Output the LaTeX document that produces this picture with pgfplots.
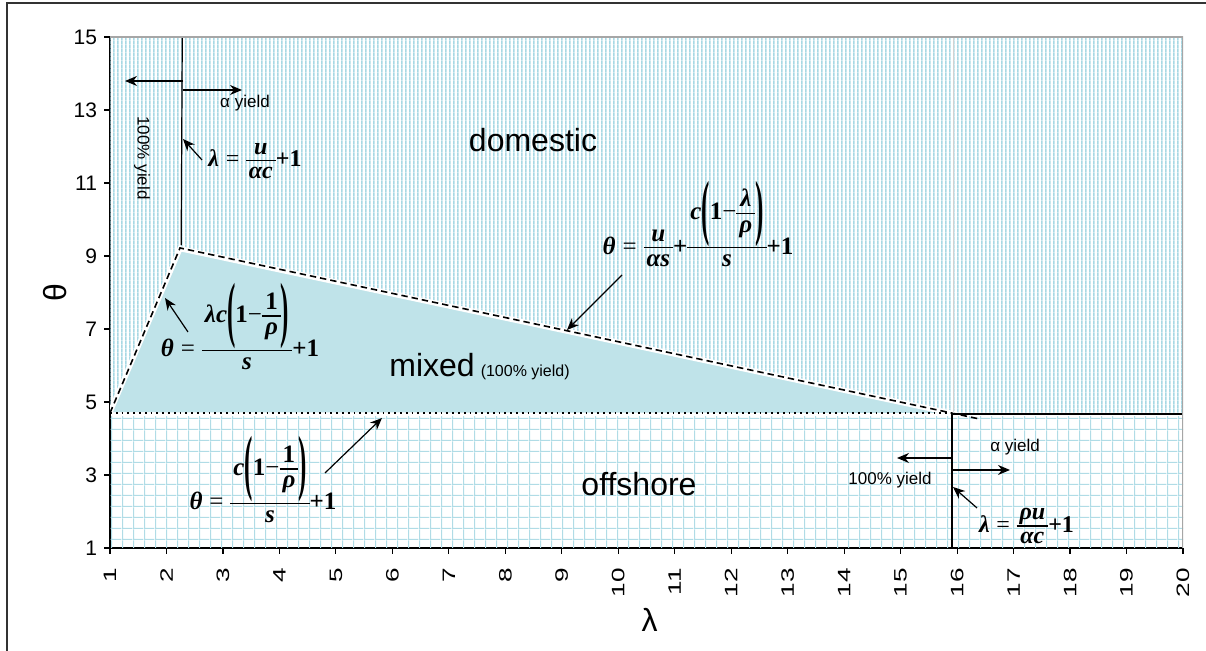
\documentclass[border=0pt]{standalone}
\usepackage{graphicx}
\usepackage{fontspec}
\setmainfont{Liberation Sans}
\newfontfamily\ff{Liberation Serif}
\usepackage{pgfplots}
\pgfplotsset{compat=1.18}
\usetikzlibrary{patterns, arrows.meta}
\definecolor{mixfill}{RGB}{191,227,233}
\definecolor{stripe}{RGB}{168,216,228}
\definecolor{gridc}{RGB}{176,220,230}
\pgfdeclarepatternformonly{vstripes}{\pgfqpoint{0pt}{0pt}}{\pgfqpoint{2.1pt}{2.1pt}}{\pgfqpoint{2.1pt}{2.1pt}}{%
  \pgfpathrectangle{\pgfqpoint{0pt}{0pt}}{\pgfqpoint{0.95pt}{2.1pt}}\pgfusepath{fill}}
\pgfdeclarepatternformonly{mygrid}{\pgfqpoint{0pt}{0pt}}{\pgfqpoint{5.6pt}{5.6pt}}{\pgfqpoint{5.6pt}{5.6pt}}{%
  \pgfpathrectangle{\pgfqpoint{0pt}{0pt}}{\pgfqpoint{0.6pt}{5.6pt}}%
  \pgfpathrectangle{\pgfqpoint{0pt}{0pt}}{\pgfqpoint{5.6pt}{0.6pt}}\pgfusepath{fill}}
\tikzset{myarrow/.style={-{Stealth[length=6pt,width=5pt]}, line width=0.6pt}}
% text-mode formula helpers
\newcommand\V[1]{{\ff\bfseries\itshape #1}}
\newcommand\N[1]{{\ff\bfseries #1}}
\newcommand\R[1]{{\ff #1}}
\newcommand\fs{\rule[-0.22em]{0pt}{0.92em}}
\newcommand\fr[2]{\raisebox{-\dimexpr 0.44em+0.6pt\relax}{\vbox{\offinterlineskip\halign{\hfil\kern1.5pt##\kern1.5pt\hfil\cr\fs#1\cr\noalign{\kern0.3pt\hrule height0.6pt\kern0.3pt}\fs#2\cr}}}}
\newcommand\bp[1]{\raisebox{-0.45em}{\scalebox{1}[2.9]{\N{#1}}}}
\newcommand\eq{\;\R{=}\;}
\begin{document}
\begin{tikzpicture}
\path[use as bounding box] (0pt,0pt) rectangle (603pt,325.5pt);
\draw[line width=0.6pt, black!80] (3.5pt,0pt) -- (3.5pt,324pt) -- (603pt,324pt);
\begin{axis}[
  at={(55pt,51.5pt)}, anchor=south west, scale only axis,
  width=536.5pt, height=255.5pt,
  xmin=1, xmax=20, ymin=1, ymax=15,
  axis x line*=bottom, axis y line*=left,
  axis line style={black, line width=0.6pt},
  xtick={1,...,20}, ytick={1,3,...,15},
  tick align=outside, major tick length=3pt,
  tick style={black, line width=0.6pt},
  /pgf/number format/assume math mode=true,
  xticklabel shift=2pt,
  x tick label style={rotate=90, anchor=east, font=\fontsize{9}{10}\selectfont, xscale=1.45},
  y tick label style={font=\fontsize{10.5}{12}\selectfont},
  xlabel={λ}, ylabel={θ},
  label style={font=\fontsize{16}{18}\selectfont},
  xlabel style={at={(axis description cs:0.503,-0.141)}, anchor=center},
  ylabel style={at={(axis description cs:-0.051,0.5)}, anchor=center},
]
\addplot[draw=none, pattern=vstripes, pattern color=stripe] coordinates {(1,4.72) (2.24,9.2) (15.91,4.68) (20,4.68) (20,15) (1,15) (1,4.72)};
\addplot[draw=none, pattern=mygrid, pattern color=gridc] coordinates {(1,1) (20,1) (20,4.6) (1,4.6) (1,1)};
\addplot[draw=none, fill=mixfill] coordinates {(1,4.72) (2.24,9.15) (15.91,4.7) (1,4.72)};
\addplot[white, line width=2.6pt] coordinates {(1,4.72) (2.24,9.2) (16.0,4.66)};
\addplot[black, line width=0.8pt, dash pattern=on 3.2pt off 2pt] coordinates {(1,4.7) (2.24,9.22) (16.41,4.53)};
\addplot[black, line width=0.7pt, dash pattern=on 0.9pt off 2pt] coordinates {(1,4.7) (15.91,4.7)};
\addplot[black, line width=1.1pt] coordinates {(15.91,4.66) (20,4.66)};
\addplot[black, line width=0.6pt] coordinates {(2.28,15) (2.26,9.3)};
\addplot[black, line width=0.6pt] coordinates {(15.91,1) (15.91,4.66)};
\addplot[gray!35, line width=0.4pt] coordinates {(15.93,4.7) (15.93,15)};
\addplot[gray!70, line width=0.6pt] coordinates {(1,15) (20,15) (20,1)};
\end{axis}
\node[font=\fontsize{16}{18}\selectfont] at (266.5pt,255.5pt) {domestic};
\node[font=\fontsize{16}{18}\selectfont] at (319.5pt,83.5pt) {offshore};
\node[anchor=base west, inner sep=0pt, font=\fontsize{16}{18}\selectfont] at (194.5pt,137pt) {mixed\hspace{3pt}{\fontsize{8}{9}\selectfont(100\% yield)}};
\draw[myarrow] (91.5pt,285pt) -- (62.5pt,285pt);
\draw[myarrow] (91.5pt,280.5pt) -- (121pt,280.5pt);
\node[font=\fontsize{8.5}{10}\selectfont] at (122.5pt,274pt) {α yield};
\node[font=\fontsize{8.5}{10}\selectfont, rotate=-90] at (71pt,246.5pt) {100\% yield};
\node[font=\fontsize{12}{14}\selectfont, inner sep=0pt] at (127.5pt,245.25pt) {\V{λ}\eq\fr{\V{u}}{\V{αc}}\N{+1}};
\draw[myarrow] (101pt,245.5pt) -- (91.5pt,256pt);
\node[font=\fontsize{12.5}{14}\selectfont, inner sep=0pt] at (120pt,161pt) {\V{θ}\eq\fr{\V{λc}\bp{(}\N{1}\R{−}\fr{\N{1}}{\V{ρ}}\bp{)}}{\V{s}}\N{+1}};
\draw[myarrow] (94pt,159.5pt) -- (82.5pt,176.5pt);
\node[font=\fontsize{12.5}{14}\selectfont, inner sep=0pt] at (131.5pt,84.5pt) {\V{θ}\eq\fr{\V{c}\bp{(}\N{1}\R{−}\fr{\N{1}}{\V{ρ}}\bp{)}}{\V{s}}\N{+1}};
\draw[myarrow] (162.5pt,89pt) -- (191pt,116.5pt);
\node[font=\fontsize{12.5}{14}\selectfont, inner sep=0pt] at (349pt,212.25pt) {\V{θ}\eq\fr{\V{u}}{\V{αs}}\N{+}\fr{\V{c}\bp{(}\N{1}\R{−}\fr{\V{λ}}{\V{ρ}}\bp{)}}{\V{s}}\N{+1}};
\draw[myarrow] (311pt,188pt) -- (283.5pt,160.5pt);
\node[font=\fontsize{8.5}{10}\selectfont] at (507.5pt,102pt) {α yield};
\draw[myarrow] (476pt,96.5pt) -- (448.5pt,96.5pt);
\draw[myarrow] (476.5pt,90.5pt) -- (505pt,90.5pt);
\node[font=\fontsize{8.5}{10}\selectfont] at (445pt,85.5pt) {100\% yield};
\node[font=\fontsize{12}{14}\selectfont, inner sep=0pt] at (513.25pt,62.5pt) {\V{λ}\eq\fr{\V{ρu}}{\V{αc}}\N{+1}};
\draw[myarrow] (488.5pt,71.5pt) -- (476.5pt,82pt);
\end{tikzpicture}
\end{document}
